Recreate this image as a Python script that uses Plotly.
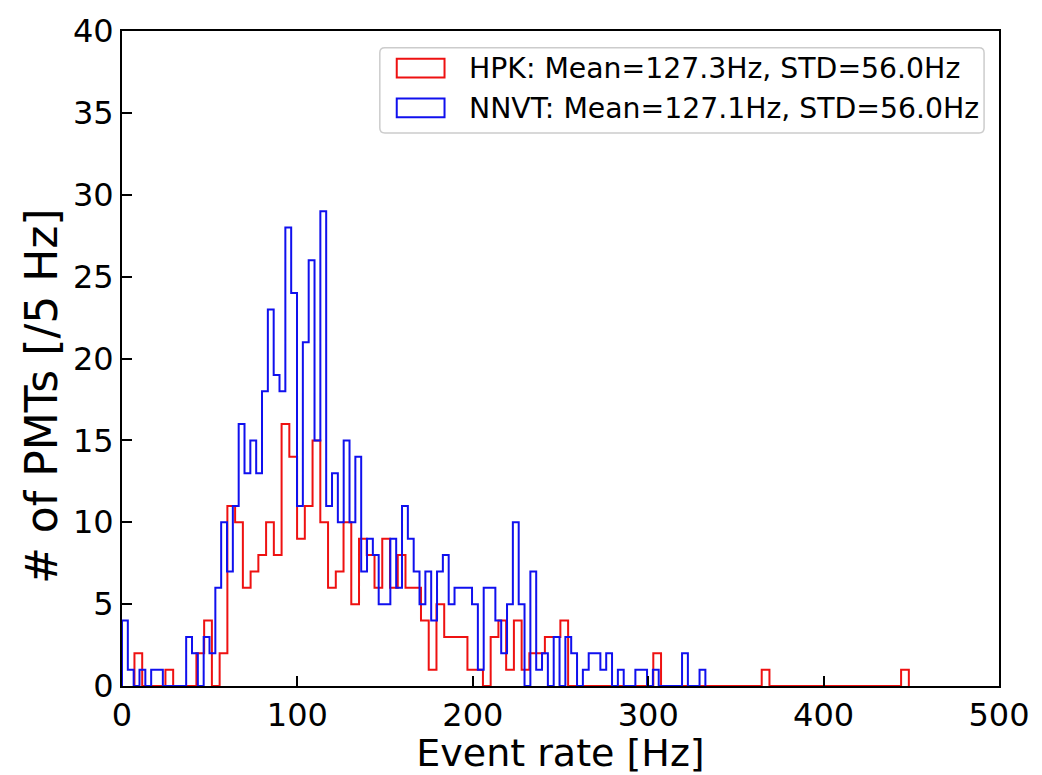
import plotly.graph_objects as go

# ---- data ----
# HPK (red) histogram: 100 bins of equal width between its min and max
hpk_start = 7.1
hpk_width = 4.415
hpk_counts = [2, 0, 0, 0, 1, 0, 0, 0, 2, 4,
              0, 2, 11, 10, 6, 7, 8, 10, 8, 16,
              14, 9, 11, 15, 10, 6, 7, 10, 5, 9,
              8, 6, 9, 6, 8, 6, 6, 4, 1, 5,
              3, 3, 3, 1, 1, 0, 3, 4, 1, 4,
              1, 2, 2, 3, 3, 4, 0, 0, 0, 0,
              0, 0, 0, 0, 0, 0, 0, 2, 0, 0,
              0, 0, 0, 0, 0, 0, 0, 0, 0, 0,
              0, 1, 0, 0, 0, 0, 0, 0, 0, 0,
              0, 0, 0, 0, 0, 0, 0, 0, 0, 1]

# NNVT (blue) histogram
nnvt_start = 0.0
nnvt_width = 3.326
nnvt_counts = [4, 1, 0, 1, 0, 1, 1, 0, 0, 0,
               0, 3, 2, 0, 3, 2, 6, 10, 7, 11,
               16, 13, 15, 13, 18, 23, 19, 18, 28, 24,
               11, 21, 26, 15, 29, 11, 13, 10, 15, 10,
               14, 7, 9, 8, 5, 5, 9, 6, 11, 9,
               7, 5, 7, 4, 7, 8, 5, 6, 6, 6,
               5, 1, 6, 6, 4, 2, 5, 10, 5, 0,
               7, 1, 2, 0, 3, 0, 3, 2, 0, 1,
               2, 2, 1, 2, 0, 1, 0, 0, 1, 1,
               0, 1, 0, 0, 0, 0, 2, 0, 0, 1]

legend_labels = ["HPK: Mean=127.3Hz, STD=56.0Hz",
                 "NNVT: Mean=127.1Hz, STD=56.0Hz"]
x_title = "Event rate [Hz]"
y_title = "# of PMTs [/5 Hz]"
x_ticks = [0, 100, 200, 300, 400, 500]
y_ticks = [0, 5, 10, 15, 20, 25, 30, 35, 40]


def step_xy(start, width, counts):
    edges = [start + width * i for i in range(len(counts) + 1)]
    xs = [edges[0]] + edges[:-1] + [edges[-1]]
    ys = [0] + list(counts) + [0]
    return xs, ys


FONT = "DejaVu Sans"
RED, BLUE = "#ee1111", "#1010ee"
fig = go.Figure()

for start, width, counts, color in [
    (hpk_start, hpk_width, hpk_counts, RED),
    (nnvt_start, nnvt_width, nnvt_counts, BLUE),
]:
    xs, ys = step_xy(start, width, counts)
    fig.add_trace(go.Scatter(x=xs, y=ys, mode="lines",
                             line=dict(shape="hv", color=color, width=2),
                             showlegend=False, hoverinfo="skip"))

# custom legend (matplotlib-like)
W, H = 881.0, 661.0
def px(xp):
    return (xp - 122) / W
def py(yp):
    return (686 - yp) / H

x0, x1, y0, y1 = px(381), px(988), py(128), py(42)
r = 5
rx, ry = r / W, r / H
path = (f"M {x0+rx},{y0} L {x1-rx},{y0} Q {x1},{y0} {x1},{y0+ry} "
        f"L {x1},{y1-ry} Q {x1},{y1} {x1-rx},{y1} L {x0+rx},{y1} "
        f"Q {x0},{y1} {x0},{y1-ry} L {x0},{y0+ry} Q {x0},{y0} {x0+rx},{y0} Z")
shapes = [dict(type="path", xref="paper", yref="paper", path=path,
               line=dict(color="#cccccc", width=1.5), fillcolor="white",
               layer="above")]
annotations = []
for i, (lab, color) in enumerate(zip(legend_labels, [RED, BLUE])):
    top = 53 + 40 * i
    shapes.append(dict(type="rect", xref="paper", yref="paper",
                       x0=px(398), x1=px(446), y0=py(top + 19), y1=py(top),
                       line=dict(color=color, width=2), fillcolor="rgba(0,0,0,0)",
                       layer="above"))
    annotations.append(dict(xref="paper", yref="paper", x=px(469), y=py(top + 10),
                            text=lab, showarrow=False, xanchor="left", yanchor="middle",
                            font=dict(family=FONT, size=28.3, color="black")))

# y-axis title placed as rotated text
annotations.append(dict(xref="paper", yref="paper", x=px(41), y=py(393),
                        text=y_title, textangle=-90, showarrow=False,
                        xanchor="center", yanchor="middle",
                        font=dict(family=FONT, size=44, color="black")))

axis_common = dict(showline=True, linecolor="black", linewidth=2, mirror=True,
                   ticks="inside", ticklen=10, tickwidth=2, tickcolor="black",
                   showgrid=False, zeroline=False,
                   tickfont=dict(family=FONT, size=32, color="black"))

fig.update_layout(
    width=1042, height=775,
    margin=dict(l=122, r=39, t=25, b=89),
    paper_bgcolor="white", plot_bgcolor="white",
    xaxis=dict(range=[0, 500], tickvals=x_ticks,
               title=dict(text=x_title, font=dict(family=FONT, size=38, color="black"),
                          standoff=2),
               **axis_common),
    yaxis=dict(range=[0, 40], tickvals=y_ticks, **axis_common),
    shapes=shapes, annotations=annotations,
)

fig.write_html("out.html")
